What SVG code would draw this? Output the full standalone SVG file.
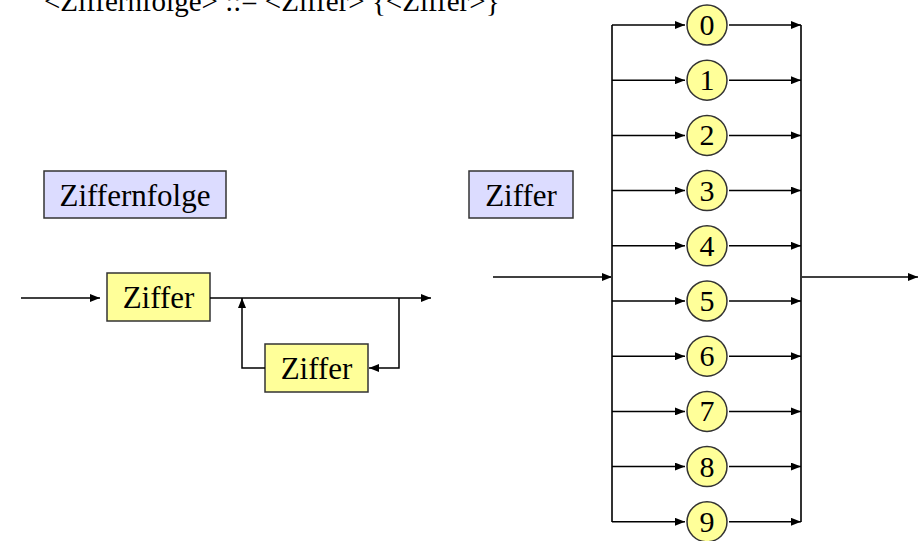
<svg xmlns="http://www.w3.org/2000/svg" width="924" height="541" viewBox="0 0 924 541">
<style>
text{font-family:"Liberation Serif","Times New Roman",serif;fill:#000}
.t{font-size:31px;text-anchor:middle}
.d{font-size:30px;text-anchor:middle}
.blue{fill:#DCDCFF;stroke:#333;stroke-width:1.5}
.yel{fill:#FFFF99;stroke:#333;stroke-width:1.5}
.ln{fill:none;stroke:#000;stroke-width:1.5}
.bus{fill:none;stroke:#333;stroke-width:2}
</style>
<defs>
<marker id="ah" viewBox="0 0 10 8" refX="10" refY="4" markerWidth="10" markerHeight="8" markerUnits="userSpaceOnUse" orient="auto">
<path d="M0,0 L10,4 L0,8 z" fill="#000"/>
</marker>
</defs>
<text x="44" y="11" style="font-size:29px">&lt;Ziffernfolge&gt; ::= &lt;Ziffer&gt; {&lt;Ziffer&gt;}</text>
<g id="title-ziffernfolge"><rect class="blue" x="44" y="171" width="182" height="47"/><text class="t" x="135" y="206">Ziffernfolge</text></g>
<g id="title-ziffer"><rect class="blue" x="469" y="171" width="104" height="47"/><text class="t" x="521" y="206">Ziffer</text></g>
<g id="box-ziffer1"><rect class="yel" x="107" y="273" width="103" height="48"/><text class="t" x="158.5" y="308">Ziffer</text></g>
<g id="box-ziffer2"><rect class="yel" x="265" y="344" width="103" height="48"/><text class="t" x="316.5" y="379">Ziffer</text></g>
<g id="digits">
<g id="d0"><circle class="yel" cx="707" cy="25" r="20"/><text class="d" x="707" y="35">0</text></g>
<g id="d1"><circle class="yel" cx="707" cy="80.2" r="20"/><text class="d" x="707" y="90.2">1</text></g>
<g id="d2"><circle class="yel" cx="707" cy="135.4" r="20"/><text class="d" x="707" y="145.4">2</text></g>
<g id="d3"><circle class="yel" cx="707" cy="190.6" r="20"/><text class="d" x="707" y="200.6">3</text></g>
<g id="d4"><circle class="yel" cx="707" cy="245.8" r="20"/><text class="d" x="707" y="255.8">4</text></g>
<g id="d5"><circle class="yel" cx="707" cy="301" r="20"/><text class="d" x="707" y="311">5</text></g>
<g id="d6"><circle class="yel" cx="707" cy="356.2" r="20"/><text class="d" x="707" y="366.2">6</text></g>
<g id="d7"><circle class="yel" cx="707" cy="411.4" r="20"/><text class="d" x="707" y="421.4">7</text></g>
<g id="d8"><circle class="yel" cx="707" cy="466.6" r="20"/><text class="d" x="707" y="476.6">8</text></g>
<g id="d9"><circle class="yel" cx="707" cy="521.8" r="20"/><text class="d" x="707" y="531.8">9</text></g>
</g>
<g id="connectors">
<line class="ln" x1="21" y1="298" x2="100" y2="298" marker-end="url(#ah)"/>
<line class="ln" x1="210" y1="298" x2="431" y2="298" marker-end="url(#ah)"/>
<polyline class="ln" points="399,298 399,368 369,368" marker-end="url(#ah)"/>
<polyline class="ln" points="265,368 242,368 242,298" marker-end="url(#ah)"/>
<line class="ln" x1="493" y1="277" x2="612" y2="277" marker-end="url(#ah)"/>
<line class="ln" x1="801" y1="277" x2="918" y2="277" marker-end="url(#ah)"/>
<line class="bus" x1="612" y1="25" x2="612" y2="522"/>
<line class="bus" x1="801" y1="25" x2="801" y2="522"/>
<g id="branches">
<line class="ln" x1="612" y1="25" x2="685" y2="25" marker-end="url(#ah)"/><line class="ln" x1="729" y1="25" x2="801" y2="25" marker-end="url(#ah)"/>
<line class="ln" x1="612" y1="80.2" x2="685" y2="80.2" marker-end="url(#ah)"/><line class="ln" x1="729" y1="80.2" x2="801" y2="80.2" marker-end="url(#ah)"/>
<line class="ln" x1="612" y1="135.4" x2="685" y2="135.4" marker-end="url(#ah)"/><line class="ln" x1="729" y1="135.4" x2="801" y2="135.4" marker-end="url(#ah)"/>
<line class="ln" x1="612" y1="190.6" x2="685" y2="190.6" marker-end="url(#ah)"/><line class="ln" x1="729" y1="190.6" x2="801" y2="190.6" marker-end="url(#ah)"/>
<line class="ln" x1="612" y1="245.8" x2="685" y2="245.8" marker-end="url(#ah)"/><line class="ln" x1="729" y1="245.8" x2="801" y2="245.8" marker-end="url(#ah)"/>
<line class="ln" x1="612" y1="301" x2="685" y2="301" marker-end="url(#ah)"/><line class="ln" x1="729" y1="301" x2="801" y2="301" marker-end="url(#ah)"/>
<line class="ln" x1="612" y1="356.2" x2="685" y2="356.2" marker-end="url(#ah)"/><line class="ln" x1="729" y1="356.2" x2="801" y2="356.2" marker-end="url(#ah)"/>
<line class="ln" x1="612" y1="411.4" x2="685" y2="411.4" marker-end="url(#ah)"/><line class="ln" x1="729" y1="411.4" x2="801" y2="411.4" marker-end="url(#ah)"/>
<line class="ln" x1="612" y1="466.6" x2="685" y2="466.6" marker-end="url(#ah)"/><line class="ln" x1="729" y1="466.6" x2="801" y2="466.6" marker-end="url(#ah)"/>
<line class="ln" x1="612" y1="521.8" x2="685" y2="521.8" marker-end="url(#ah)"/><line class="ln" x1="729" y1="521.8" x2="801" y2="521.8" marker-end="url(#ah)"/>
</g>
</g>
</svg>
